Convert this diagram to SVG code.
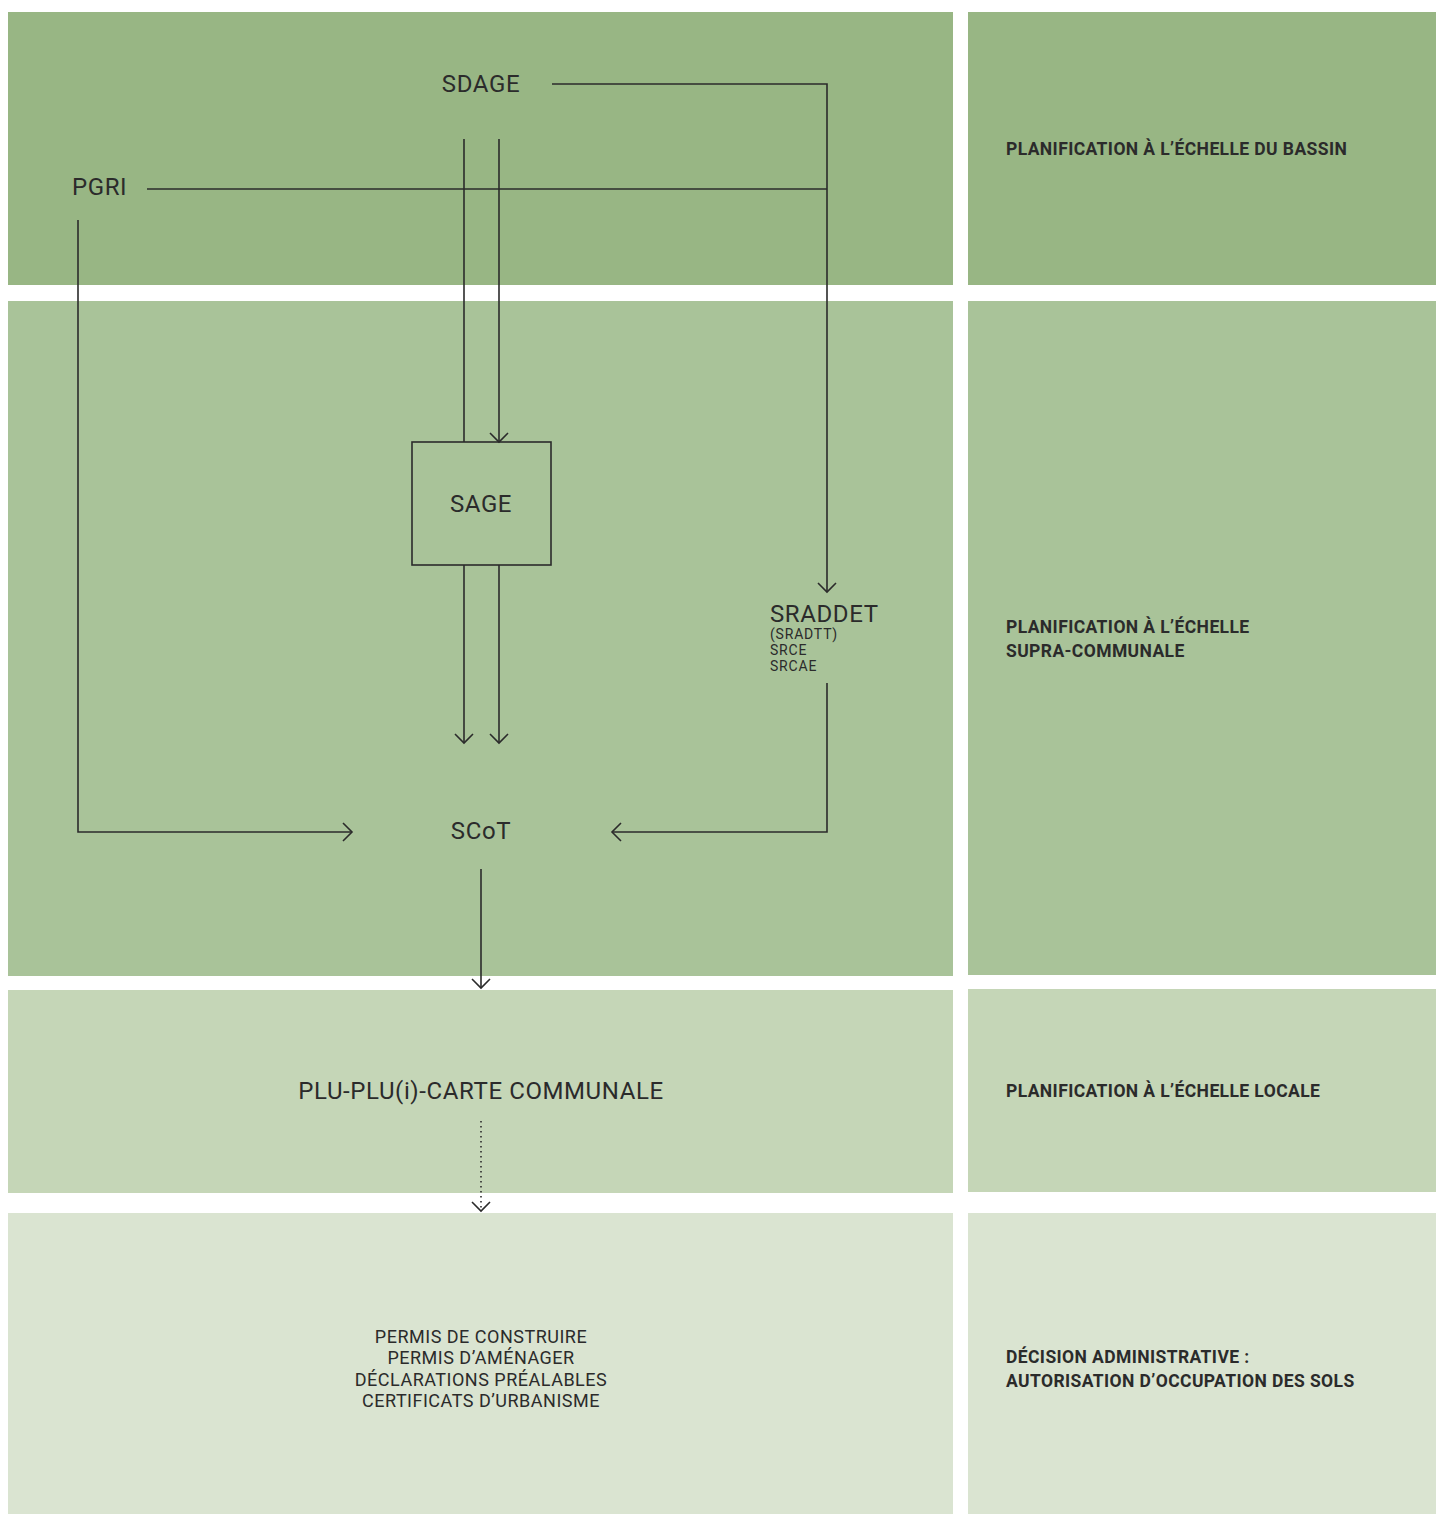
<svg xmlns="http://www.w3.org/2000/svg" width="1436" height="1514" viewBox="0 0 1436 1514">
<style>
.lbl{font-family:Roboto,"Liberation Sans",sans-serif;fill:#2b2b2b;font-size:24px;letter-spacing:0.6px;}
.sub{font-family:Roboto,"Liberation Sans",sans-serif;fill:#2b2b2b;font-size:14px;letter-spacing:0.8px;}
.per{font-family:Roboto,"Liberation Sans",sans-serif;fill:#2b2b2b;font-size:18px;letter-spacing:0.5px;text-anchor:middle;}
.side{font-family:Roboto,"Liberation Sans",sans-serif;fill:#2b2b2b;font-size:17.5px;font-weight:bold;letter-spacing:0.4px;}
.ln{fill:none;stroke:#2b2b2b;stroke-width:1.6;}
</style>
<defs>
<marker id="ar" viewBox="-12 -12 24 24" markerWidth="24" markerHeight="24" refX="0" refY="0" orient="auto" markerUnits="userSpaceOnUse">
<path d="M-9,-9 L0,0 L-9,9" fill="none" stroke="#2b2b2b" stroke-width="1.6"/>
</marker>
</defs>
<rect width="1436" height="1514" fill="#ffffff"/>
<g id="bands">
<rect x="8" y="12" width="945" height="273" fill="#98b684"/>
<rect x="968" y="12" width="468" height="273" fill="#98b684"/>
<rect x="8" y="301" width="945" height="675" fill="#a9c399"/>
<rect x="968" y="301" width="468" height="674" fill="#a9c399"/>
<rect x="8" y="990" width="945" height="203" fill="#c5d6b7"/>
<rect x="968" y="989" width="468" height="203" fill="#c5d6b7"/>
<rect x="8" y="1213" width="945" height="301" fill="#dae4d1"/>
<rect x="968" y="1213" width="468" height="301" fill="#dae4d1"/>
</g>
<g id="connectors">
<polyline class="ln" points="552,84 827,84 827,592" marker-end="url(#ar)"/>
<line class="ln" x1="147" y1="189" x2="827" y2="189"/>
<line class="ln" x1="464" y1="139" x2="464" y2="442"/>
<line class="ln" x1="499" y1="139" x2="499" y2="442" marker-end="url(#ar)"/>
<line class="ln" x1="464" y1="565" x2="464" y2="743" marker-end="url(#ar)"/>
<line class="ln" x1="499" y1="565" x2="499" y2="743" marker-end="url(#ar)"/>
<polyline class="ln" points="78,220 78,832 352,832" marker-end="url(#ar)"/>
<polyline class="ln" points="827,683 827,832 612,832" marker-end="url(#ar)"/>
<line class="ln" x1="481" y1="869" x2="481" y2="988" marker-end="url(#ar)"/>
<line class="ln" x1="481" y1="1121" x2="481" y2="1211" stroke-dasharray="1.5,3.5" marker-end="url(#ar)"/>
</g>
<g id="sdage"><text class="lbl" x="481" y="92" text-anchor="middle">SDAGE</text></g>
<g id="pgri"><text class="lbl" x="72" y="195">PGRI</text></g>
<g id="sage"><rect class="ln" x="412" y="442" width="139" height="123"/><text class="lbl" x="481" y="512" text-anchor="middle">SAGE</text></g>
<g id="sraddet"><text class="lbl" x="770" y="622">SRADDET</text>
<text class="sub" x="770" y="639">(SRADTT)</text>
<text class="sub" x="770" y="655">SRCE</text>
<text class="sub" x="770" y="671">SRCAE</text></g>
<g id="scot"><text class="lbl" x="481" y="839" text-anchor="middle">SCoT</text></g>
<g id="plu"><text class="lbl" x="481" y="1099" text-anchor="middle">PLU-PLU(i)-CARTE COMMUNALE</text></g>
<g id="permis">
<text class="per" x="481" y="1343">PERMIS DE CONSTRUIRE</text>
<text class="per" x="481" y="1364">PERMIS D’AMÉNAGER</text>
<text class="per" x="481" y="1386">DÉCLARATIONS PRÉALABLES</text>
<text class="per" x="481" y="1407">CERTIFICATS D’URBANISME</text>
</g>
<g id="side1"><text class="side" x="1006" y="155">PLANIFICATION À L’ÉCHELLE DU BASSIN</text></g>
<g id="side2"><text class="side" x="1006" y="633">PLANIFICATION À L’ÉCHELLE</text><text class="side" x="1006" y="657">SUPRA-COMMUNALE</text></g>
<g id="side3"><text class="side" x="1006" y="1097">PLANIFICATION À L’ÉCHELLE LOCALE</text></g>
<g id="side4"><text class="side" x="1006" y="1363">DÉCISION ADMINISTRATIVE :</text><text class="side" x="1006" y="1387">AUTORISATION D’OCCUPATION DES SOLS</text></g>
</svg>
